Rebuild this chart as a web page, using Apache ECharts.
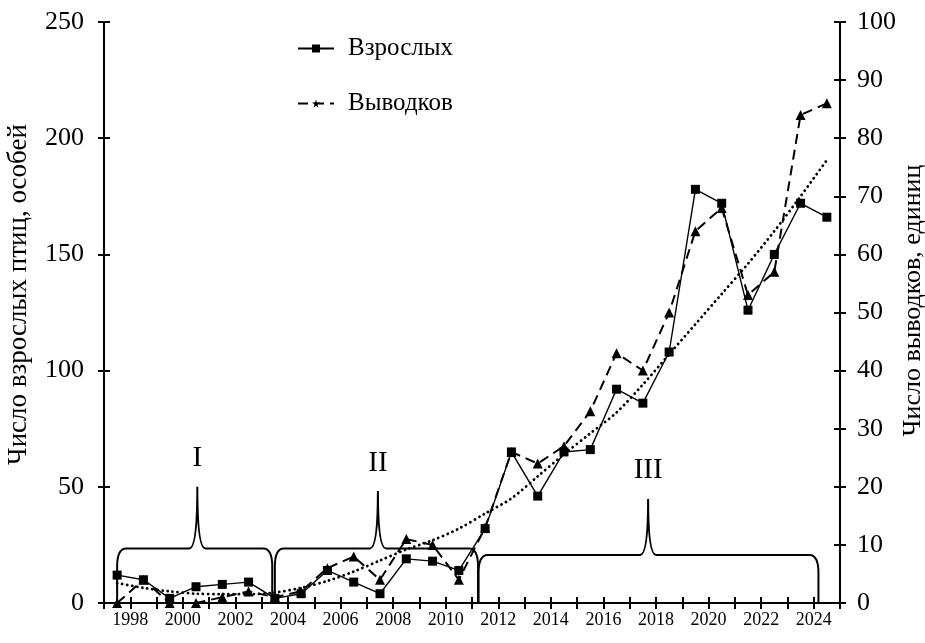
<!DOCTYPE html>
<html>
<head>
<meta charset="utf-8">
<script src="https://cdn.jsdelivr.net/npm/echarts@6/dist/echarts.min.js"></script>
<style>
html,body{margin:0;padding:0;background:#fff;}
#chart{width:925px;height:643px;}
</style>
</head>
<body>
<div id="chart"></div>
<script>
// ---- data ----
const years = [1997,1998,1999,2000,2001,2002,2003,2004,2005,2006,2007,2008,2009,2010,2011,2012,2013,2014,2015,2016,2017,2018,2019,2020,2021,2022,2023,2024];
const adults = [12,10,2,7,8,9,2,4,14,9,4,19,18,14,32,65,46,65,66,92,86,108,178,172,126,150,172,166];
const broods = [0,4,0,0,1,2,1,2,6,8,4,11,10,4,13,26,24,27,33,43,40,50,64,68,53,57,84,86];
const trend = [8.6,6.5,5,4,3.8,3.8,4.5,6.5,9.5,13.5,18.3,23,27,32,38.5,45,54.5,64,73,82,94,107,120,133,146,160,175,190.6];
const leftTicks = [0,50,100,150,200,250];
const rightTicks = [0,10,20,30,40,50,60,70,80,90,100];
const periodLabels = ['I','II','III'];
const periodFrom = [1997.0, 2003.0, 2010.75];
const periodTo = [2002.9, 2010.73, 2023.68];
const periodPeak = [2000.05, 2006.92, 2017.2];
const periodLevel = [23.5, 23.5, 20.7];
const periodTop = [50, 48.2, 44.8];
const seriesNames = ['Взрослых','Выводков'];
const leftTitle = 'Число взрослых птиц, особей';
const rightTitle = 'Число выводков, единиц';

const FONT = "'Liberation Serif','Times New Roman',serif";
const chart = echarts.init(document.getElementById('chart'), null, {renderer:'canvas'});

const starPath = 'path://M50,0 L61,35 L98,35 L68,57 L79,91 L50,70 L21,91 L32,57 L2,35 L39,35 Z';

const xMin = years[0] - 0.5, xMax = years[years.length-1] + 0.5;

function xAxisBase(extra){
  return Object.assign({
    type:'value', min:xMin, max:xMax, interval:1, position:'bottom',
    splitLine:{show:false},
  }, extra);
}
function yAxisBase(extra){
  return Object.assign({type:'value', splitLine:{show:false}}, extra);
}

const braceData = periodLabels.map((l,i)=>[periodFrom[i], periodTo[i], periodPeak[i], periodLevel[i], periodTop[i], i]);

const option = {
  backgroundColor:'#fff',
  animation:false,
  textStyle:{fontFamily:FONT, color:'#000'},
  grid:{left:104, right:85, top:22, bottom:40, containLabel:false, outerBoundsMode:'none'},
  legend:{
    data:seriesNames, orient:'vertical', left:297, top:36, padding:0, itemWidth:36, itemHeight:10, itemGap:30,
    textStyle:{fontFamily:FONT, fontSize:25, color:'#000', padding:[0,0,0,9]},
  },
  xAxis:[
    xAxisBase({
      axisLine:{show:true, onZero:false, lineStyle:{color:'#000', width:2}},
      axisTick:{show:true, length:6, lineStyle:{color:'#000', width:2}},
      axisLabel:{show:true, fontFamily:FONT, fontSize:18, color:'#000', margin:8, showMinLabel:true, showMaxLabel:true,
        formatter:function(v){ const y = Math.round(v + 0.5); return (y % 2 === 0) ? String(y) : ''; }},
    }),
    xAxisBase({
      axisLine:{show:false, onZero:false},
      axisTick:{show:true, inside:true, length:6, lineStyle:{color:'#000', width:2}},
      axisLabel:{show:false},
    }),
  ],
  yAxis:[
    yAxisBase({position:'left', min:0, max:250, interval:50,
      name:leftTitle, nameLocation:'middle', nameGap:72, nameRotate:90, nameMoveOverlap:false,
      nameTextStyle:{fontFamily:FONT, fontSize:27, color:'#000', padding:[0,0,0,36]},
      axisLine:{show:true, onZero:false, lineStyle:{color:'#000', width:2}},
      axisTick:{show:true, length:6, lineStyle:{color:'#000', width:2}},
      axisLabel:{fontFamily:FONT, fontSize:26, color:'#000', margin:20}}),
    yAxisBase({position:'right', min:0, max:100, interval:10,
      name:rightTitle, nameLocation:'middle', nameGap:60, nameRotate:90, nameMoveOverlap:false,
      nameTextStyle:{fontFamily:FONT, fontSize:26, color:'#000', padding:[0,0,0,24]},
      axisLine:{show:true, onZero:false, lineStyle:{color:'#000', width:2}},
      axisTick:{show:true, length:6, lineStyle:{color:'#000', width:2}},
      axisLabel:{fontFamily:FONT, fontSize:26, color:'#000', margin:17}}),
    yAxisBase({position:'left', min:0, max:250, interval:50,
      axisLine:{show:false, onZero:false}, axisTick:{show:true, inside:true, length:6, lineStyle:{color:'#000', width:2}}, axisLabel:{show:false}}),
    yAxisBase({position:'right', min:0, max:100, interval:10,
      axisLine:{show:false, onZero:false}, axisTick:{show:true, inside:true, length:6, lineStyle:{color:'#000', width:2}}, axisLabel:{show:false}}),
  ],
  series:[
    {
      name:seriesNames[0], type:'line', xAxisIndex:0, yAxisIndex:0,
      data: years.map((y,i)=>[y, adults[i]]),
      symbol:'rect', symbolSize:9, showAllSymbol:true,
      lineStyle:{color:'#000', width:1.4},
      itemStyle:{color:'#000'},
      z:4,
    },
    {
      name:seriesNames[1], type:'line', xAxisIndex:0, yAxisIndex:1,
      data: years.map((y,i)=>({value:[y, broods[i]], symbol:'triangle'})),
      symbol:starPath, symbolSize:10, showAllSymbol:true,
      lineStyle:{color:'#000', width:2, type:[10,6]},
      itemStyle:{color:'#000'},
      z:3,
    },
    {
      name:'trend', type:'line', xAxisIndex:0, yAxisIndex:0,
      data: years.map((y,i)=>[y, trend[i]]),
      symbol:'none', smooth:0.3,
      lineStyle:{color:'#000', width:2.8, type:[0.1,5], cap:'round'},
      z:2,
    },
    {
      name:'periods', type:'custom', xAxisIndex:0, yAxisIndex:0, clip:false,
      encode:{x:[0,1,2], y:[3,4]},
      data: braceData,
      renderItem:function(params, api){
        const x0 = api.coord([api.value(0), 0])[0];
        const x1 = api.coord([api.value(1), 0])[0];
        const xp = api.coord([api.value(2), 0])[0];
        const yb = api.coord([api.value(0), 0])[1];
        const yf = api.coord([api.value(0), api.value(3)])[1];
        const yt = api.coord([api.value(0), api.value(4)])[1];
        const rh = 9, rv = 18, c = 8;
        const d = 'M'+x0+','+yb+' L'+x0+','+(yf+rv)+' Q'+x0+','+yf+' '+(x0+rh)+','+yf+
          ' L'+(xp-c)+','+yf+' Q'+xp+','+yf+' '+xp+','+yt+' Q'+xp+','+yf+' '+(xp+c)+','+yf+
          ' L'+(x1-rh)+','+yf+' Q'+x1+','+yf+' '+x1+','+(yf+rv)+' L'+x1+','+yb;
        return {
          type:'group',
          children:[
            {type:'path', shape:{pathData:d}, style:{fill:'none', stroke:'#000', lineWidth:2}},
            {type:'text', style:{text:periodLabels[api.value(5)], x:xp, y:yt-28, textAlign:'center', textVerticalAlign:'middle',
              font:'29px '+FONT, fill:'#000'}}
          ]
        };
      },
      z:1,
    }
  ]
};
chart.setOption(option);
</script>
</body>
</html>
